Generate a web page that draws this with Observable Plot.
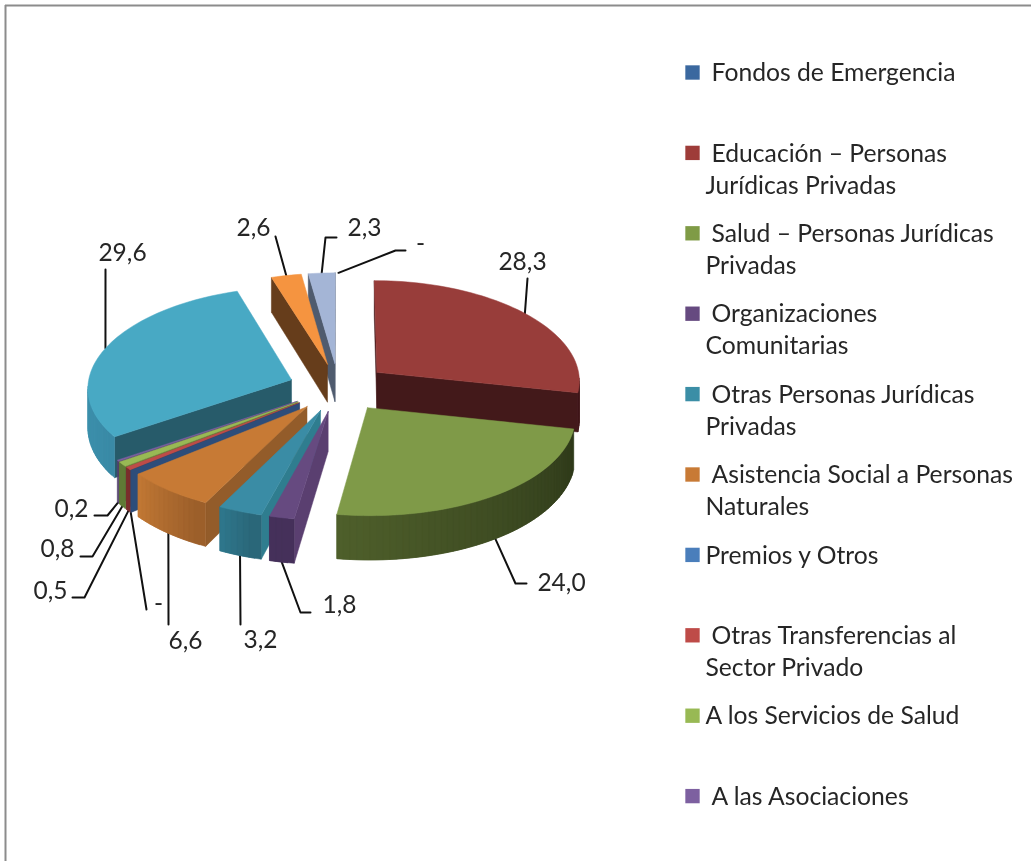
<!DOCTYPE html>
<html><head><meta charset="utf-8">
<script src="https://cdn.jsdelivr.net/npm/d3@7"></script>
<script src="https://cdn.jsdelivr.net/npm/@observablehq/plot@0.6"></script>
<style>html,body{margin:0;padding:0;background:#fff}svg{display:block;filter:blur(0.45px)}</style>
</head><body><div id="chart"></div>
<script>
// ---- data ----
const categories = ["Fondos de Emergencia","Educación – Personas\nJurídicas Privadas","Salud – Personas Jurídicas\nPrivadas","Organizaciones\nComunitarias","Otras Personas Jurídicas\nPrivadas","Asistencia Social a Personas\nNaturales","Premios y Otros","Otras Transferencias al\nSector Privado","A los Servicios de Salud","A las Asociaciones"];
const values = [0, 28.3, 24.0, 1.8, 3.2, 6.6, 0, 0.5, 0.8, 0.2, 29.6, 2.6, 2.3];
const valueLabels = ["-","28,3","24,0","1,8","3,2","6,6","-","0,5","0,8","0,2","29,6","2,6","2,3"];
const unindented = new Set(["Premios y Otros","A los Servicios de Salud"]);
// ---- styles ----
const legendColors = ["#3b689f","#9e3c39","#7f9b46","#664a80","#3b8ea6","#c87a35","#4a7ebb","#be4b48","#98b954","#7d60a0"];
const topColors = ["#3b689f","#983d3a","#7f9a48","#664a80","#3a8ca5","#c77a35","#2d4d7a","#be4b48","#98b954","#7d60a0","#48a9c4","#f59440","#a4b5d6"];
const cutColors = ["#2d4d7a","#43191a","#4f602b","#5a3f70","#2f7d8f","#935c2a","#2d4d7a","#7a2d2c","#5f7a35","#54406e","#275b6a","#663d1b","#4f5b6e"];
const arcFrom = ["#2d4d7a","#43191a","#2f3a1a","#45305a","#2a6577","#9a5e2a","#2d4d7a","#7a2d2c","#5f7a35","#54406e","#3a8aa6","#663d1b","#4f5b6e"];
const arcTo   = ["#2d4d7a","#43191a","#4f602b","#45305a","#2f7b90","#c57a35","#2d4d7a","#7a2d2c","#5f7a35","#54406e","#48a9c4","#663d1b","#4f5b6e"];
// ---- annotation layout (label position, then leader bend points) ----
const labelAt = [[420,244],[522,262],[561,583],[339,605],[260,640],[185,641],[158,604],[50,591],[57,549],[71,509],[122,253],[253,228],[364,228]];
const leaderVia = [[[395,250],[405,250]],[[527,278]],[[515,583],[526,583]],[[300,612],[310,612]],[[240,624]],[[168,624]],[[146,609]],[[84,597],[72,597]],[[92,556],[80,556]],[[107,515],[94,515]],[[105,269]],[[275,236]],[[325,237],[336,237]]];
// ---- view of the tilted pie ----
const W = 1031, H = 861;
const cx = 338, cy = 387, rx = 204, ry = 99, kx = 0.075, ky = 0.06, thick = 39, explode = 0.245, kz = 0.1;
const total = d3.sum(values);
function project(X, Y, bottom) {
  const sx = 1 / (1 - kx * Y), sy = 1 / (1 - ky * Y), sz = 1 / (1 - kz * Y);
  return [cx + rx * X * sx, cy + ry * Y * sy + (bottom ? thick * sz : 0)];
}
function polar(a, r, m) {
  return [r * Math.sin(a) + explode * Math.sin(m), -r * Math.cos(a) - explode * Math.cos(m)];
}
let acc = 0;
const slices = values.map((v, i) => {
  const a0 = acc / total * 2 * Math.PI; acc += v;
  const a1 = acc / total * 2 * Math.PI;
  return {i, v, a0, a1, mid: (a0 + a1) / 2};
});
const order = slices.slice().sort((p, q) => -Math.cos(p.mid) + Math.cos(q.mid));
const polys = [];
let pid = 0;
function addPoly(pts, color) {
  const id = pid++;
  pts.forEach(p => polys.push({id, x: p[0], y: p[1], color}));
}
function area(q) {
  let s = 0;
  q.forEach((p, j) => { const n = q[(j + 1) % q.length]; s += p[0] * n[1] - n[0] * p[1]; });
  return s;
}
function face(a, b, color) { // a,b ground points in the order that faces outward
  const q = [project(a[0], a[1], false), project(b[0], b[1], false), project(b[0], b[1], true), project(a[0], a[1], true)];
  if (area(q) < -2) addPoly([...q, q[0]], color);
}
for (const s of order) {
  const apex = polar(0, 0, s.mid);
  const n = Math.max(1, Math.ceil((s.a1 - s.a0) / 0.03));
  const arc = d3.range(n + 1).map(j => polar(s.a0 + (s.a1 - s.a0) * j / n, 1, s.mid));
  const inner = d3.interpolateRgb(arcFrom[s.i], arcTo[s.i]);
  face(apex, arc[0], cutColors[s.i]);
  face(arc[n], apex, cutColors[s.i]);
  // rim strips overlap the next one so no seams show
  for (let j = n - 1; j >= 0; j--) face(arc[j], arc[Math.min(n, j + 2)], inner((j + 0.5) / n));
  if (s.v > 0) {
    const top = [apex, ...arc].map(p => project(p[0], p[1], false));
    addPoly([...top, top[0]], topColors[s.i]);
  }
}
// leaders
const leaders = [];
slices.forEach(s => {
  const p = polar(s.mid, 1, s.mid);
  const a = project(p[0], p[1], Math.cos(s.mid) < 0);
  [a, ...leaderVia[s.i]].forEach(q => leaders.push({id: s.i, x: q[0], y: q[1]}));
});
const labels = slices.map(s => ({x: labelAt[s.i][0], y: labelAt[s.i][1], t: valueLabels[s.i]}));
// legend
const legendX = 692, textX = 705, indent = 6, legendTop = 72, legendStep = 80.4, lineStep = 32, textDrop = 0.8;
const legendRows = categories.map((c, i) => ({c, i, y: legendTop + legendStep * i}));
const legendLines = legendRows.flatMap(r => r.c.split("\n").map((t, j) => ({
  t, y: r.y + textDrop + j * lineStep, x: textX + (j === 0 && !unindented.has(r.c) ? indent : 0)
})));
const chart = Plot.plot({
  width: W, height: H, margin: 0,
  x: {domain: [0, W], range: [0, W], axis: null},
  y: {domain: [0, H], range: [0, H], axis: null},
  style: {fontFamily: "Lato, sans-serif", background: "#fff"},
  marks: [
    Plot.ruleY([5], {x1: 5, x2: W, stroke: "#8c8c8c", strokeWidth: 2}),
    Plot.ruleX([5], {y1: 5, y2: H, stroke: "#8c8c8c", strokeWidth: 2}),
    Plot.line(leaders, {x: "x", y: "y", z: "id", stroke: "#111", strokeWidth: 2, curve: "linear"}),
    Plot.line(polys, {x: "x", y: "y", z: "id", fill: "color", stroke: "color", strokeWidth: 0.5, curve: "linear"}),
    Plot.text(labels, {x: "x", y: "y", text: "t", fontSize: 24.5, fill: "#262626"}),
    Plot.dot(legendRows, {x: () => legendX, y: "y", symbol: "square", r: 8.1, fill: (d) => legendColors[d.i]}),
    Plot.text(legendLines, {x: "x", y: "y", text: "t", textAnchor: "start", fontSize: 24.7, fill: "#262626"})
  ]
});
document.getElementById("chart").append(chart);
</script></body></html>
